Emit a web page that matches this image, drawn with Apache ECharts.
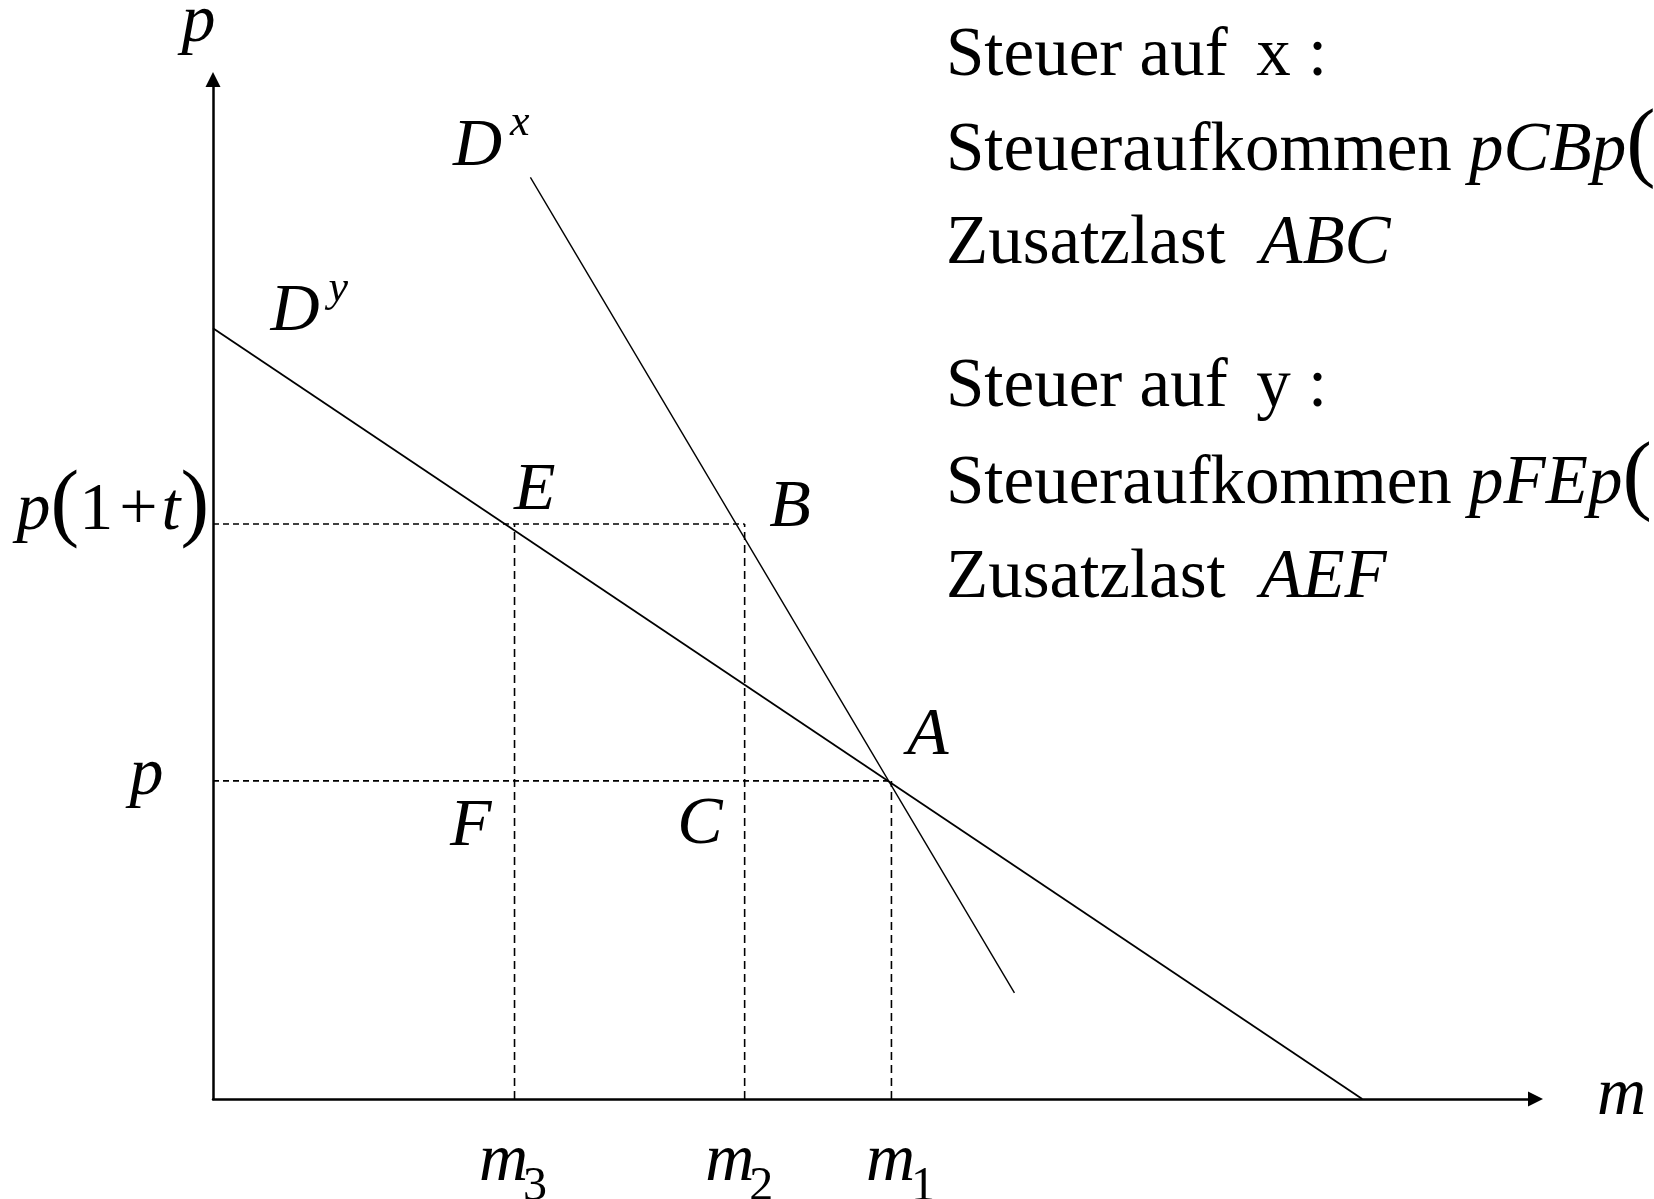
<!DOCTYPE html>
<html><head><meta charset="utf-8">
<script src="https://cdn.jsdelivr.net/npm/echarts@6/dist/echarts.min.js"></script>
<style>html,body{margin:0;padding:0;background:#fff}#c{width:1654px;height:1199px}</style>
</head><body><div id="c"></div>
<script>
// ---- data (axis range 0..100 on both axes) ----
const quantityNames = ['3', '2', '1'];          // subscripts of m3, m2, m1
const quantities = [22.8, 40.2, 51.3];          // m3, m2, m1
const priceNames = ['p', 'p(1+t)'];
const prices = [31.2, 56.4];                    // p, p(1+t)
const demandX = [[24.0, 90.4], [60.6, 10.4]];   // D^x
const demandY = [[0, 75.6], [86.9, 0]];         // D^y
const pointNames = ['A', 'B', 'C', 'E', 'F'];
const infoLines = [
  ['Steuer auf \u2006x :', ''],
  ['Steueraufkommen ', 'pCBp'],
  ['Zusatzlast  ', 'ABC'],
  ['Steuer auf \u2006y :', ''],
  ['Steueraufkommen ', 'pFEp'],
  ['Zusatzlast  ', 'AEF']
];

// ---- drawing ----
const FONT = "'Liberation Serif', 'Times New Roman', serif";
const [m3, m2, m1] = quantities;
const [p0, p1] = prices;
const pts = {A: [m1, p0], B: [m2, p1], C: [m2, p0], E: [m3, p1], F: [m3, p0]};

function note(pt, text, dx, dy, size, italic) {
  return {
    value: pt,
    label: {
      show: true, formatter: text, position: [dx, dy], align: 'left', verticalAlign: 'middle',
      fontSize: size, fontStyle: italic ? 'italic' : 'normal', fontFamily: FONT, color: '#000',
      opacity: 1, textBorderWidth: 0
    }
  };
}

const notes = [
  note(pts.A, pointNames[0], 16, -44, 68, true),
  note(pts.B, pointNames[1], 25, -15, 68, true),
  note(pts.C, pointNames[2], -67, 45, 68, true),
  note(pts.E, pointNames[3], 0, -32, 68, true),
  note(pts.F, pointNames[4], -64, 47, 68, true),
  note(demandX[0], 'D', -77, -30, 68, true),
  note(demandX[0], 'x', -20, -53, 44, true),
  note(demandY[0], 'D', 58, -16, 68, true),
  note(demandY[0], 'y', 116, -38, 44, true),
  note([0, 100], 'p', -31, -56, 68, true),
  note([100, 0], 'm', 62, -2, 68, true),
  note([0, p0], priceNames[0], -83, -4, 68, true),
  note([m3, 0], 'm', -35, 64, 68, true),
  note([m3, 0], quantityNames[0], 9, 89, 48, false),
  note([m2, 0], 'm', -39, 64, 68, true),
  note([m2, 0], quantityNames[1], 5, 89, 48, false),
  note([m1, 0], 'm', -25, 64, 68, true),
  note([m1, 0], quantityNames[2], 20, 89, 48, false)
];
// p(1+t) with larger parentheses
const p1t = note([0, p1], '{i|p}{b|(}{n|1}{pl|+}{i|t}{b|)}', -196, -12, 68, true);
p1t.label.rich = {
  i: {fontSize: 68, fontStyle: 'italic', fontFamily: FONT, color: '#000'},
  n: {fontSize: 68, fontStyle: 'normal', fontFamily: FONT, color: '#000'},
  pl: {fontSize: 68, fontStyle: 'normal', fontFamily: FONT, color: '#000', padding: [0, 4, 0, 6]},
  b: {fontSize: 86, fontStyle: 'normal', fontFamily: FONT, color: '#000', padding: [0, 0, 8, 0]}
};
notes.push(p1t);

const dashed = (data, dash) => ({
  type: 'line', data, symbol: 'none', silent: true,
  lineStyle: {color: '#000', width: 1.6, type: dash}
});

const axisBase = {
  type: 'value', min: 0, max: 100,
  axisLine: {show: true, onZero: false, symbol: ['none', 'triangle'], symbolSize: [15, 15],
    lineStyle: {color: '#000', width: 2.5}},
  axisTick: {show: false}, axisLabel: {show: false}, splitLine: {show: false}
};

const baselines = [80, 175, 268, 411, 508, 602];
const graphic = infoLines.map((ln, i) => ({
  type: 'text', x: 946, y: baselines[i] - 23, silent: true,
  style: {
    text: '{n|' + ln[0] + '}' + (ln[1] ? '{i|' + ln[1] + '}' : '') + ((i === 1 || i === 4) ? '{b|(}' : ''),
    verticalAlign: 'middle', textVerticalAlign: 'middle', align: 'left', textAlign: 'left',
    fill: '#000',
    rich: {
      n: {fontSize: 69, fontFamily: FONT, fill: '#000', color: '#000'},
      i: {fontSize: 69, fontFamily: FONT, fontStyle: 'italic', fill: '#000', color: '#000'},
      b: {fontSize: 88, fontFamily: FONT, fill: '#000', color: '#000', padding: [0, 0, 10, 0]}
    }
  }
}));

const chart = echarts.init(document.getElementById('c'), null, {renderer: 'canvas'});
chart.setOption({
  animation: false,
  backgroundColor: '#fff',
  grid: {left: 213, top: 79.5, width: 1322.5, height: 1019.5, containLabel: false},
  xAxis: Object.assign({}, axisBase),
  yAxis: Object.assign({}, axisBase),
  graphic,
  series: [
    dashed([[0, p1], [m2, p1]], [6, 4]),
    dashed([[0, p0], [m1, p0]], [6, 4]),
    dashed([[m3, 0], [m3, p1]], [8, 5]),
    dashed([[m2, 0], [m2, p1]], [8, 5]),
    dashed([[m1, 0], [m1, p0]], [8, 5]),
    {type: 'line', data: demandY, symbol: 'none', silent: true, lineStyle: {color: '#000', width: 1.8}},
    {type: 'line', data: demandX, symbol: 'none', silent: true, lineStyle: {color: '#000', width: 1.4}},
    {type: 'scatter', data: notes, symbolSize: 1, silent: true,
      itemStyle: {color: 'rgba(0,0,0,0)', opacity: 1}, z: 10}
  ]
});
</script>
</body></html>
